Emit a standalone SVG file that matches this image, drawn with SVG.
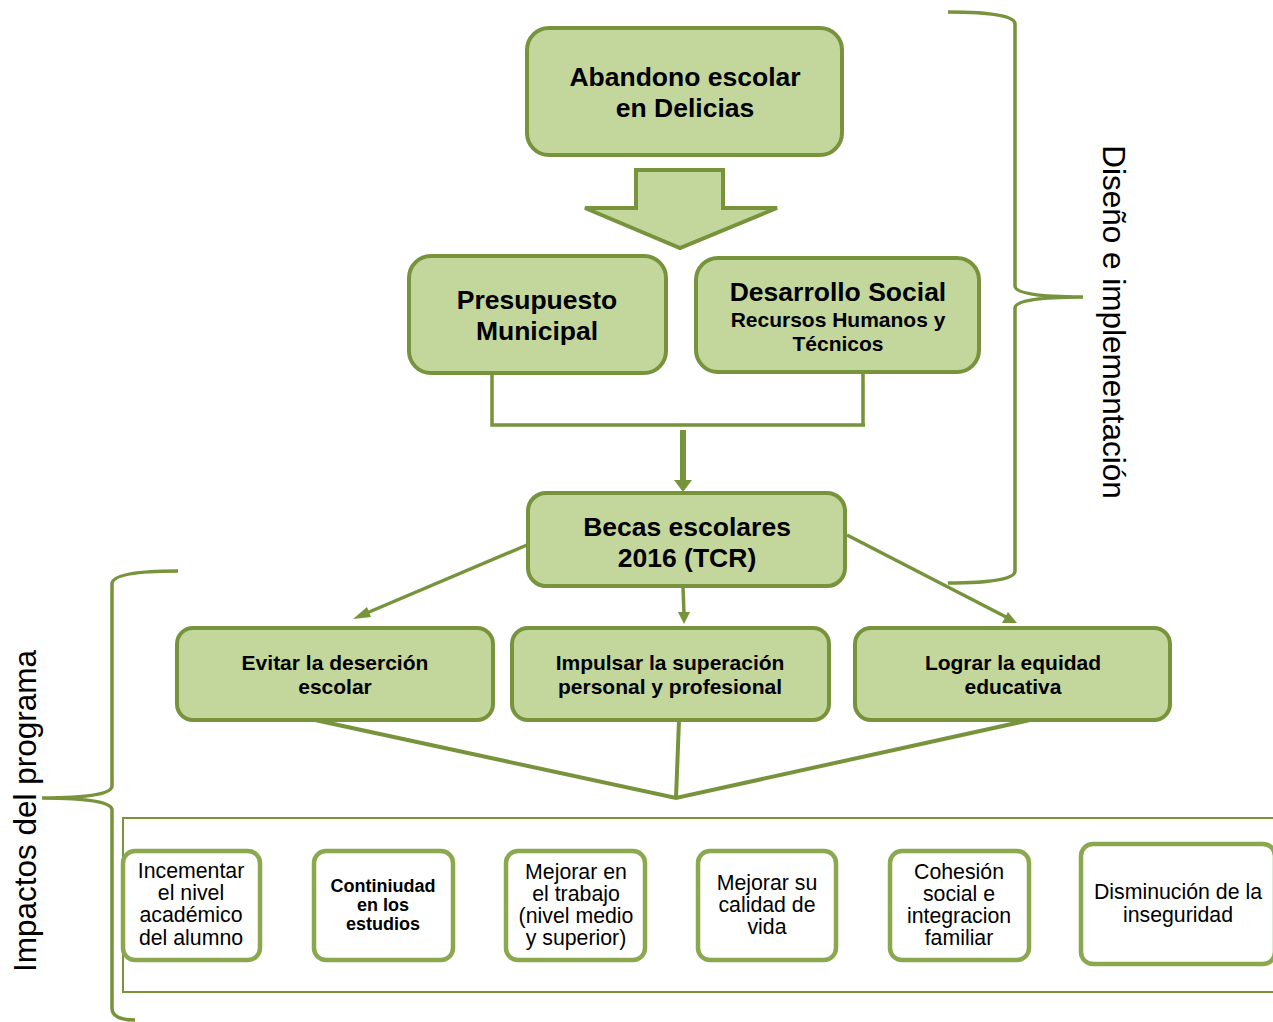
<svg xmlns="http://www.w3.org/2000/svg" width="1273" height="1022" viewBox="0 0 1273 1022">
<style>
.node{fill:#C3D69B;stroke:#77933C;stroke-width:4}
.wnode{fill:#FFFFFF;stroke:#8BA84E;stroke-width:4.5}
.t{font-family:"Liberation Sans",Arial,sans-serif;fill:#000;text-anchor:middle}
.b{font-weight:bold}
.ln{fill:none;stroke:#77933C}
</style>
<rect width="1273" height="1022" fill="#FFFFFF"/>

<g id="brace-right">
<path class="ln" stroke-width="3.5" d="M948,12 Q1015,12 1015,24 L1015,286 Q1015,297 1083,297 Q1015,297 1015,308 L1015,571 Q1015,583 948,583"/>
<text class="t" font-size="31.5" transform="translate(1103,322) rotate(90)">Diseño e implementación</text>
</g>
<g id="brace-left">
<path class="ln" stroke-width="3.5" d="M178,571 Q112,571 112,584 L112,786 Q112,798 42,798 Q112,798 112,810 L112,1008 Q112,1020 135,1020"/>
<text class="t" font-size="31.5" transform="translate(36,811) rotate(-90)">Impactos del programa</text>
</g>

<g id="connectors">
<polygon points="636,170 723,170 723,208 777,208 680,248 585,208 636,208" fill="#C3D69B" stroke="#77933C" stroke-width="4" stroke-linejoin="miter"/>
<path class="ln" stroke-width="3.5" d="M492,373 L492,425 L865,425 M863,372 L863,425"/>
<line class="ln" stroke-width="6" x1="683" y1="430" x2="683" y2="480"/>
<polygon points="674,480 692,480 683,492" fill="#77933C"/>
<line class="ln" stroke-width="3.5" x1="527" y1="545" x2="362" y2="615"/>
<polygon points="353,619 367,607 371,617" fill="#77933C"/>
<line class="ln" stroke-width="3.5" x1="683" y1="587" x2="684" y2="614"/>
<polygon points="678,612 690,612 684,624" fill="#77933C"/>
<line class="ln" stroke-width="3.5" x1="847" y1="535" x2="1008" y2="618"/>
<polygon points="1017,623 1002,623 1008,612" fill="#77933C"/>
<path class="ln" stroke-width="4" stroke-linejoin="miter" d="M315,720 L676,798 L1030,720 M679,720 L676,798"/>
<rect x="123" y="818" width="1155" height="174" fill="none" stroke="#77933C" stroke-width="2"/>
</g>

<g id="n-abandono">
<rect class="node" x="527" y="28" width="315" height="127" rx="22"/>
<text class="t b" font-size="26.5" x="685" y="86">Abandono escolar</text>
<text class="t b" font-size="26.5" x="685" y="117">en Delicias</text>
</g>
<g id="n-presupuesto">
<rect class="node" x="409" y="256" width="257" height="117" rx="22"/>
<text class="t b" font-size="26.5" x="537" y="309">Presupuesto</text>
<text class="t b" font-size="26.5" x="537" y="340">Municipal</text>
</g>
<g id="n-desarrollo">
<rect class="node" x="696" y="258" width="283" height="114" rx="22"/>
<text class="t b" font-size="26.5" x="838" y="301">Desarrollo Social</text>
<text class="t b" font-size="21" x="838" y="327">Recursos Humanos y</text>
<text class="t b" font-size="21" x="838" y="351">Técnicos</text>
</g>
<g id="n-becas">
<rect class="node" x="528" y="493" width="317" height="93" rx="18"/>
<text class="t b" font-size="26.5" x="687" y="536">Becas escolares</text>
<text class="t b" font-size="26.5" x="687" y="567">2016 (TCR)</text>
</g>
<g id="n-evitar">
<rect class="node" x="177" y="628" width="316" height="92" rx="16"/>
<text class="t b" font-size="21" x="335" y="670">Evitar la deserción</text>
<text class="t b" font-size="21" x="335" y="694">escolar</text>
</g>
<g id="n-impulsar">
<rect class="node" x="512" y="628" width="317" height="92" rx="16"/>
<text class="t b" font-size="21" x="670" y="670">Impulsar la superación</text>
<text class="t b" font-size="21" x="670" y="694">personal y profesional</text>
</g>
<g id="n-lograr">
<rect class="node" x="855" y="628" width="315" height="92" rx="16"/>
<text class="t b" font-size="21" x="1013" y="670">Lograr la equidad</text>
<text class="t b" font-size="21" x="1013" y="694">educativa</text>
</g>

<g id="n-incrementar">
<rect class="wnode" x="123" y="851" width="137" height="109" rx="12"/>
<text class="t" font-size="21.3" x="191" y="878">Incementar</text>
<text class="t" font-size="21.3" x="191" y="900">el nivel</text>
<text class="t" font-size="21.3" x="191" y="922">académico</text>
<text class="t" font-size="21.3" x="191" y="945">del alumno</text>
</g>
<g id="n-continuidad">
<rect class="wnode" x="314" y="851" width="139" height="109" rx="12"/>
<text class="t b" font-size="18" x="383" y="892">Continiudad</text>
<text class="t b" font-size="18" x="383" y="911">en los</text>
<text class="t b" font-size="18" x="383" y="930">estudios</text>
</g>
<g id="n-trabajo">
<rect class="wnode" x="506" y="851" width="139" height="109" rx="12"/>
<text class="t" font-size="21.3" x="576" y="879">Mejorar en</text>
<text class="t" font-size="21.3" x="576" y="901">el trabajo</text>
<text class="t" font-size="21.3" x="576" y="923">(nivel medio</text>
<text class="t" font-size="21.3" x="576" y="945">y superior)</text>
</g>
<g id="n-calidad">
<rect class="wnode" x="698" y="851" width="138" height="109" rx="12"/>
<text class="t" font-size="21.3" x="767" y="890">Mejorar su</text>
<text class="t" font-size="21.3" x="767" y="912">calidad de</text>
<text class="t" font-size="21.3" x="767" y="934">vida</text>
</g>
<g id="n-cohesion">
<rect class="wnode" x="890" y="851" width="139" height="109" rx="12"/>
<text class="t" font-size="21.3" x="959" y="879">Cohesión</text>
<text class="t" font-size="21.3" x="959" y="901">social e</text>
<text class="t" font-size="21.3" x="959" y="923">integracion</text>
<text class="t" font-size="21.3" x="959" y="945">familiar</text>
</g>
<g id="n-inseguridad">
<rect class="wnode" x="1081" y="844" width="194" height="120" rx="12"/>
<text class="t" font-size="21.3" x="1178" y="899">Disminución de la</text>
<text class="t" font-size="21.3" x="1178" y="922">inseguridad</text>
</g>
</svg>
